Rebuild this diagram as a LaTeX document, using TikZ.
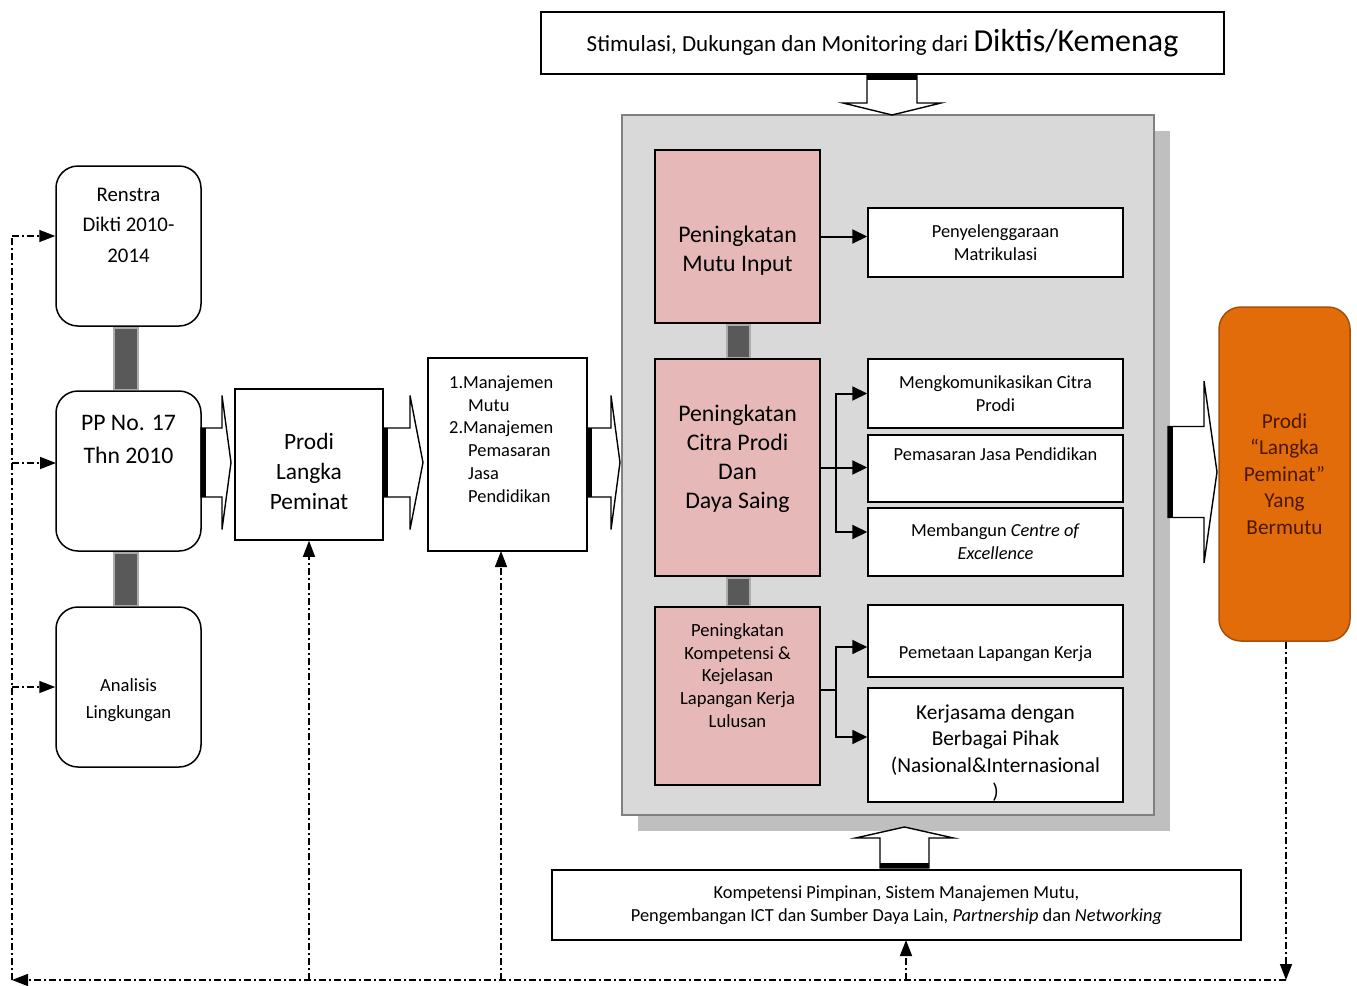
\documentclass[tikz,border=0pt]{standalone}
\usepackage{fontspec}
\setmainfont{Carlito}
\usepackage{tikz}
\usetikzlibrary{arrows.meta,calc,shadows}

\definecolor{panelgray}{HTML}{D9D9D9}
\definecolor{shadegray}{HTML}{BFBFBF}
\definecolor{rosepink}{HTML}{E6B9B8}
\definecolor{jointgray}{HTML}{595959}
\definecolor{orangefill}{HTML}{E36C0A}
\definecolor{orangeline}{HTML}{A0500F}
\definecolor{orangetext}{HTML}{4A1800}

\newcommand{\fsTitle}{\fontsize{23}{28}\selectfont}
\newcommand{\fsHuge}{\fontsize{32}{38}\selectfont}
\newcommand{\fsBig}{\fontsize{23.8}{29}\selectfont}
\newcommand{\fsMid}{\fontsize{21.3}{26.5}\selectfont}
\newcommand{\fsSmall}{\fontsize{18.4}{22.8}\selectfont}
\newcommand{\blockarrow}[6]{% start, angle, shaft, head, half shaft, half head
	\begin{scope}[shift={#1},rotate=#2]
		\draw[fill=white,line width=1.4pt] (0,-#5) -- (#3,-#5) -- (#3,-#6) -- ({#3+#4},0) -- (#3,#6) -- (#3,#5) -- (0,#5) -- cycle;
		\fill (0,-#5) rectangle (5,#5);
	\end{scope}}

\begin{document}
\begin{tikzpicture}[x=1pt,y=-1pt,
		plain/.style={draw=black, line width=1.5pt, fill=white, inner sep=0pt, align=center},
		roundbox/.style={plain, rounded corners=22pt},
		pinkbox/.style={plain, fill=rosepink},
		joint/.style={fill=jointgray, draw=jointgray!50, line width=1.5pt},
		link/.style={line width=2pt},
		feedback/.style={line width=1.5pt, dash pattern=on 7pt off 3pt on 2pt off 3pt},
		tip/.style={-{Triangle[length=15pt,width=14pt]}},
		fbtip/.style={-{Triangle[length=16pt,width=12pt]}}]
	\useasboundingbox (0,0) rectangle (1357,985);

	% top and bottom banners
	\node[plain, minimum width=683, minimum height=62] (stim) at (882.5,43)
		{{\fsTitle Stimulasi, Dukungan dan Monitoring dari }{\fsHuge Diktis/Kemenag}};
	\node[plain, minimum width=689, minimum height=70, font=\fsSmall] (kompbox) at (896.5,905)
		{Kompetensi Pimpinan, Sistem Manajemen Mutu,\\
		Pengembangan ICT dan Sumber Daya Lain, \textit{Partnership} dan \textit{Networking}};

	% grey panel
	\node[draw=black!50, line width=1.5pt, fill=panelgray, minimum width=532, minimum height=700,
		drop shadow={shadow xshift=16pt, shadow yshift=-16pt, opacity=1, fill=shadegray}] (panel) at (888,465) {};

	% left column
	\node[roundbox, minimum width=145, minimum height=160] (renstra) at (128.5,246) {};
	\node[roundbox, minimum width=145, minimum height=160] (pp) at (128.5,471) {};
	\node[roundbox, minimum width=145, minimum height=160] (analisis) at (128.5,687) {};
	\node[align=center, font=\fontsize{20.8}{30.5}\selectfont] (renstra-t) at (128.5,225) {Renstra\\Dikti 2010-\\2014};
	\node[align=center, font=\fontsize{23.7}{33}\selectfont] (pp-t) at (128.5,439.5) {PP No. 17\\Thn 2010};
	\node[align=center, font=\fontsize{18.6}{27}\selectfont] (analisis-t) at (128.5,700) {Analisis\\Lingkungan};
	\draw[joint] ($(renstra.south)+(-14.5,1)$) rectangle ($(pp.north)+(9.5,-1)$);
	\draw[joint] ($(pp.south)+(-14.5,1)$) rectangle ($(analisis.north)+(9.5,-1)$);

	\node[plain, minimum width=148, minimum height=151] (prodi) at (309,464.5) {};
	\node[align=center, font=\fontsize{23.4}{30}\selectfont] (prodi-t) at (309,471.5) {Prodi\\Langka\\Peminat};
	\node[plain, minimum width=159, minimum height=193] (manaj) at (507.5,454.5) {};
	\node[align=left, anchor=west, inner sep=0pt, font=\fsSmall] (manaj-t) at (449,439)
		{1.Manajemen\\\hspace*{19pt}Mutu\\2.Manajemen\\\hspace*{19pt}Pemasaran\\\hspace*{19pt}Jasa\\\hspace*{19pt}Pendidikan};

	% block arrows
	\blockarrow{(201,462.5)}{0}{21}{9}{34.5}{67}
	\blockarrow{(383,462.5)}{0}{27}{13}{34.5}{67}
	\blockarrow{(587,462.5)}{0}{24}{9}{34.5}{67}
	\blockarrow{(1168,472)}{0}{36}{13}{45.5}{91}
	\blockarrow{(892,75)}{-90}{28}{12}{25}{49}
	\blockarrow{(904.5,868)}{90}{30}{11}{24.5}{49}

	% pink column
	\node[pinkbox, minimum width=165, minimum height=173] (mutu) at (737.5,236.5) {};
	\node[pinkbox, minimum width=165, minimum height=217] (citra) at (737.5,467.5) {};
	\node[pinkbox, minimum width=165, minimum height=178] (komp) at (737.5,696) {};
	\node[align=center, font=\fsBig] (mutu-t) at (737.5,250.5) {Peningkatan\\Mutu Input};
	\node[align=center, font=\fsBig] (citra-t) at (737.5,459) {Peningkatan\\Citra Prodi\\Dan\\Daya Saing};
	\node[align=center, font=\fontsize{18.6}{22.8}\selectfont] (komp-t) at (737.5,675.5)
		{Peningkatan\\Kompetensi \&\\Kejelasan\\Lapangan Kerja\\Lulusan};
	\draw[joint] ($(mutu.south)+(-10.5,1)$) rectangle ($(citra.north)+(12.5,-1)$);
	\draw[joint] ($(citra.south)+(-10.5,1)$) rectangle ($(komp.north)+(12.5,-1)$);

	% white boxes on the right
	\node[plain, minimum width=255, minimum height=69, font=\fsSmall] (matrik) at (995.5,242.5) {Penyelenggaraan\\Matrikulasi};
	\node[plain, minimum width=255, minimum height=69, font=\fsSmall] (komun) at (995.5,393.5) {Mengkomunikasikan Citra\\Prodi};
	\node[plain, minimum width=255, minimum height=67, font=\fsSmall] (pemas) at (995.5,468.5) {Pemasaran Jasa Pendidikan\\\strut};
	\node[plain, minimum width=255, minimum height=68, font=\fsSmall] (centre) at (995.5,542)
		{Membangun \textit{Centre of}\\\textit{Excellence}};
	\node[plain, minimum width=255, minimum height=72, font=\fsSmall] (peta) at (995.5,641) {\strut\\Pemetaan Lapangan Kerja};
	\node[plain, minimum width=255, minimum height=114] (kerja) at (995.5,745) {};
	\node[align=center, font=\fsMid] (kerja-t) at (995.5,753)
		{Kerjasama dengan\\Berbagai Pihak\\(Nasional\&Internasional\\)};

	\node[roundbox, draw=orangeline, fill=orangefill, minimum width=131, minimum height=334,
		text=orangetext, font=\fsMid] (hasil) at (1284.5,474)
		{Prodi\\“Langka\\Peminat”\\Yang\\Bermutu};

	% links inside the panel
	\draw[link, tip] (mutu.east) -- (mutu.east -| matrik.west);
	\coordinate (cj) at (836,467.5);
	\draw[link] (citra.east) -- (cj);
	\draw[link, tip] (cj) |- (komun.west);
	\draw[link, tip] (cj) -- (cj -| pemas.west);
	\draw[link, tip] (cj) |- ($(centre.west)+(0,-10)$);
	\coordinate (kj) at (836,690);
	\draw[link] (komp.east |- kj) -- (kj);
	\draw[link, tip] (kj) |- ($(peta.west)+(0,6)$);
	\draw[link, tip] (kj) |- ($(kerja.west)+(0,-8)$);

	% feedback loop
	\coordinate (fbR) at (1286,980);
	\coordinate (fbL) at (12,980);
	\coordinate (fbTop) at (12,236);
	\coordinate (inPP) at (56,463);
	\coordinate (inManaj) at (501,551);
	\coordinate (inKomp) at (906,940);
	\draw[feedback, fbtip] (hasil.south -| fbR) -- (fbR);
	\draw[feedback, fbtip] (fbR) -- (fbL);
	\draw[feedback] (fbL) -- (fbTop);
	\draw[feedback, fbtip] (fbTop) -- (fbTop -| renstra.west);
	\draw[feedback, fbtip] (fbL |- inPP) -- (inPP);
	\draw[feedback, fbtip] (fbL |- analisis.west) -- (analisis.west);
	\draw[feedback, fbtip] (prodi.south |- fbL) -- (prodi.south);
	\draw[feedback, fbtip] (inManaj |- fbL) -- (inManaj);
	\draw[feedback, fbtip] (inKomp |- fbL) -- (inKomp);
\end{tikzpicture}
\end{document}
